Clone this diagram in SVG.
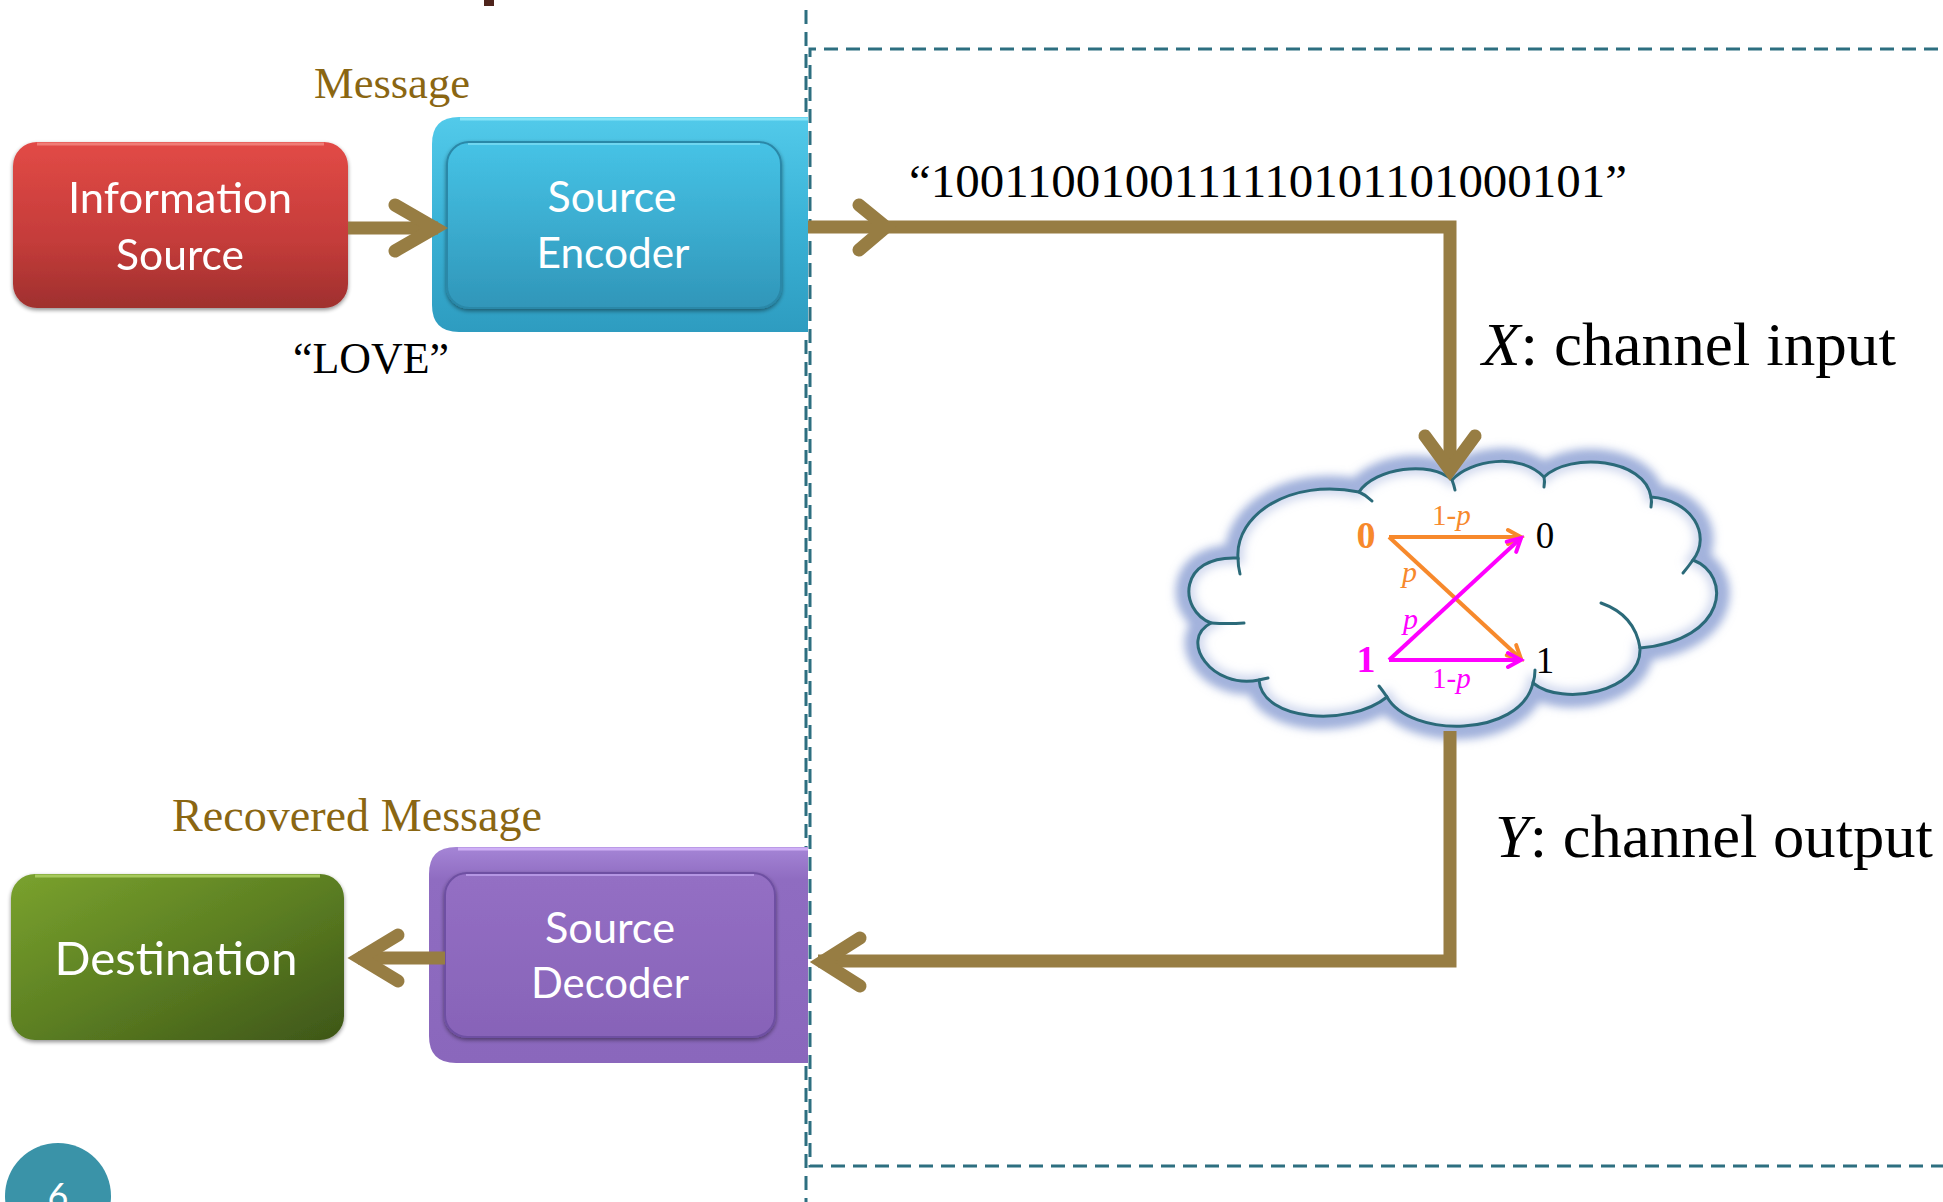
<svg xmlns="http://www.w3.org/2000/svg" width="1943" height="1202" viewBox="0 0 1943 1202">
<defs>
<style>
.box-text{font-family:Lato,"Open Sans","Noto Sans",sans-serif;fill:#ffffff;text-anchor:middle}
.serif{font-family:"Liberation Serif","DejaVu Serif",serif}
.gold{fill:#8a6612}
.conn{fill:none;stroke:#977d43;stroke-width:13;stroke-linejoin:miter;stroke-miterlimit:10}
.chev{fill:none;stroke:#977d43;stroke-width:13;stroke-linejoin:miter;stroke-linecap:round;stroke-miterlimit:10}
.dash{fill:none;stroke:#2d6f80;stroke-width:3;stroke-dasharray:14 8}
.orange{stroke:#f7892c;stroke-width:4;fill:none}
.magenta{stroke:#ff00ff;stroke-width:4;fill:none}
</style>
<linearGradient id="gRed" x1="0" y1="0" x2="0" y2="1">
<stop offset="0" stop-color="#e24a46"/><stop offset="0.6" stop-color="#c43c3a"/><stop offset="1" stop-color="#9f302e"/>
</linearGradient>
<linearGradient id="gBlueOuter" x1="0" y1="0" x2="0" y2="1">
<stop offset="0" stop-color="#52caea"/><stop offset="0.5" stop-color="#3ab2d6"/><stop offset="1" stop-color="#2e9cc0"/>
</linearGradient>
<linearGradient id="gBlueInner" x1="0" y1="0" x2="0" y2="1">
<stop offset="0" stop-color="#46c3e6"/><stop offset="1" stop-color="#3096b9"/>
</linearGradient>
<linearGradient id="gPurpleOuter" x1="0" y1="0" x2="0" y2="1">
<stop offset="0" stop-color="#a585d6"/><stop offset="0.15" stop-color="#8f6cc1"/><stop offset="1" stop-color="#8a67bc"/>
</linearGradient>
<linearGradient id="gPurpleInner" x1="0" y1="0" x2="0" y2="1">
<stop offset="0" stop-color="#946fc4"/><stop offset="1" stop-color="#8763b8"/>
</linearGradient>
<linearGradient id="gGreen" x1="0" y1="0" x2="1" y2="1">
<stop offset="0" stop-color="#7aa22e"/><stop offset="0.5" stop-color="#5c7f22"/><stop offset="1" stop-color="#3e5618"/>
</linearGradient>
<filter id="glow" x="-20%" y="-20%" width="140%" height="140%">
<feGaussianBlur stdDeviation="5"/>
</filter>
<filter id="shadow" x="-10%" y="-10%" width="120%" height="130%">
<feGaussianBlur in="SourceAlpha" stdDeviation="2"/>
<feOffset dy="2"/>
<feComponentTransfer><feFuncA type="linear" slope="0.45"/></feComponentTransfer>
<feMerge><feMergeNode/><feMergeNode in="SourceGraphic"/></feMerge>
</filter>
<marker id="arrO" markerWidth="20" markerHeight="20" refX="0" refY="0" viewBox="-16 -10 20 20" markerUnits="userSpaceOnUse" orient="auto">
<path d="M -13 -7 L 0 0 L -13 7" fill="none" stroke="#f7892c" stroke-width="4" stroke-linecap="round"/>
</marker>
<marker id="arrM" markerWidth="20" markerHeight="20" refX="0" refY="0" viewBox="-16 -10 20 20" markerUnits="userSpaceOnUse" orient="auto">
<path d="M -13 -7 L 0 0 L -13 7" fill="none" stroke="#ff00ff" stroke-width="4" stroke-linecap="round"/>
</marker>
<path id="cloudShape" d="M 1238 558 C 1235 515 1290 478 1359 492 C 1375 468 1430 460 1452 480 C 1470 460 1520 452 1544 477 C 1570 452 1645 458 1651 497 C 1692 500 1712 535 1693 560 C 1732 575 1728 640 1640 648 C 1642 692 1562 707 1533 683 C 1520 738 1410 738 1387 697 C 1350 727 1262 722 1259 680 C 1212 690 1178 640 1211 623 C 1178 610 1178 555 1238 558 Z"/>
</defs>

<rect x="0" y="0" width="1943" height="1202" fill="#ffffff"/>

<!-- title fragment -->
<rect x="484" y="0" width="10" height="6" fill="#4e241c"/>

<!-- dashed frame -->
<g id="frame">
<line class="dash" x1="806" y1="10" x2="806" y2="1202"/>
<path class="dash" d="M 1960 49 H 810 V 1166 H 1960"/>
</g>

<!-- Information Source -->
<g id="information-source" filter="url(#shadow)">
<rect x="13" y="142" width="335" height="166" rx="24" fill="url(#gRed)"/>
<path d="M 37 144 H 324" stroke="#f07c76" stroke-width="3" fill="none"/>
<text class="box-text" x="180" y="213" font-size="42" textLength="224" lengthAdjust="spacingAndGlyphs">Information</text>
<text class="box-text" x="180" y="270" font-size="42" textLength="128" lengthAdjust="spacingAndGlyphs">Source</text>
</g>

<!-- Source Encoder -->
<g id="source-encoder">
<path d="M 808 117 H 459 Q 432 117 432 144 V 305 Q 432 332 459 332 H 808 Z" fill="url(#gBlueOuter)"/>
<path d="M 460 119 H 808" stroke="#86e4f7" stroke-width="3" fill="none"/>
<g filter="url(#shadow)">
<rect x="447" y="142" width="334" height="166" rx="22" fill="url(#gBlueInner)" stroke="#2b88a8" stroke-width="2"/>
</g>
<path d="M 468 144 H 760" stroke="#6fd6f0" stroke-width="2" fill="none"/>
<text class="box-text" x="612" y="212" font-size="42" textLength="129" lengthAdjust="spacingAndGlyphs">Source</text>
<text class="box-text" x="613" y="268" font-size="42" textLength="153" lengthAdjust="spacingAndGlyphs">Encoder</text>
</g>

<!-- Source Decoder -->
<g id="source-decoder">
<path d="M 808 847 H 456 Q 429 847 429 874 V 1036 Q 429 1063 456 1063 H 808 Z" fill="url(#gPurpleOuter)"/>
<path d="M 458 849 H 808" stroke="#cfb0f6" stroke-width="3" fill="none"/>
<g filter="url(#shadow)">
<rect x="445" y="873" width="330" height="164" rx="22" fill="url(#gPurpleInner)" stroke="#6e50a2" stroke-width="2"/>
</g>
<path d="M 466 875 H 754" stroke="#b596e3" stroke-width="2" fill="none"/>
<text class="box-text" x="610" y="943" font-size="42" textLength="130" lengthAdjust="spacingAndGlyphs">Source</text>
<text class="box-text" x="610" y="998" font-size="42" textLength="158" lengthAdjust="spacingAndGlyphs">Decoder</text>
</g>

<!-- Destination -->
<g id="destination" filter="url(#shadow)">
<rect x="11" y="874" width="333" height="166" rx="24" fill="url(#gGreen)"/>
<path d="M 35 876 H 320" stroke="#a6c95c" stroke-width="3" fill="none"/>
<text class="box-text" x="176" y="975" font-size="46" textLength="243" lengthAdjust="spacingAndGlyphs">Destination</text>
</g>

<!-- Channel cloud -->
<g id="channel">
<use href="#cloudShape" fill="none" stroke="#8da1d3" stroke-width="26" stroke-opacity="0.85" filter="url(#glow)"/>
<use href="#cloudShape" fill="#ffffff" stroke="none"/>
<use href="#cloudShape" fill="none" stroke="#a9b8e0" stroke-width="12" stroke-opacity="0.55" filter="url(#glow)"/>
<use href="#cloudShape" fill="none" stroke="#2b6a79" stroke-width="3"/>
<g fill="none" stroke="#2b6a79" stroke-width="3" stroke-linecap="round">
<path d="M 1238 558 Q 1238 566 1240 574"/>
<path d="M 1359 492 Q 1366 495 1372 501"/>
<path d="M 1452 480 Q 1454 485 1455 490"/>
<path d="M 1544 477 Q 1545 481 1544 487"/>
<path d="M 1651 497 Q 1652 501 1651 507"/>
<path d="M 1693 560 Q 1688 567 1683 573"/>
<path d="M 1601 603 Q 1635 615 1640 648"/>
<path d="M 1533 683 Q 1535 677 1535 670"/>
<path d="M 1387 697 Q 1383 691 1379 686"/>
<path d="M 1259 680 Q 1263 679 1268 678"/>
<path d="M 1211 623 Q 1228 624 1244 623"/>
</g>
<line class="orange" x1="1389" y1="537" x2="1521" y2="537" marker-end="url(#arrO)"/>
<line class="orange" x1="1389" y1="537" x2="1521" y2="659" marker-end="url(#arrO)"/>
<line class="magenta" x1="1389" y1="660" x2="1521" y2="538" marker-end="url(#arrM)"/>
<line class="magenta" x1="1389" y1="660" x2="1521" y2="660" marker-end="url(#arrM)"/>
<text class="serif" x="1366" y="548" font-size="38" font-weight="bold" fill="#f7892c" text-anchor="middle">0</text>
<text class="serif" x="1366" y="672" font-size="38" font-weight="bold" fill="#ff00ff" text-anchor="middle">1</text>
<text class="serif" x="1545" y="548" font-size="37" fill="#000000" text-anchor="middle">0</text>
<text class="serif" x="1545" y="673" font-size="37" fill="#000000" text-anchor="middle">1</text>
<text class="serif" x="1432" y="525" font-size="29" fill="#f7892c">1-<tspan font-style="italic">p</tspan></text>
<text class="serif" x="1402" y="582" font-size="30" fill="#f7892c" font-style="italic">p</text>
<text class="serif" x="1403" y="629" font-size="30" fill="#ff00ff" font-style="italic">p</text>
<text class="serif" x="1432" y="688" font-size="29" fill="#ff00ff">1-<tspan font-style="italic">p</tspan></text>
</g>

<!-- Connectors -->
<g id="connectors">
<path class="conn" d="M 348 228 H 438"/>
<path class="chev" d="M 395 205 L 435 228 L 395 251"/>
<path class="conn" d="M 808 227 H 1450 V 472"/>
<path class="chev" d="M 859 205 L 886 227 L 859 250"/>
<path class="chev" d="M 1425 436 L 1450 470 L 1475 436"/>
<path class="conn" d="M 1450 731 V 961 H 818"/>
<path class="chev" d="M 860 938 L 822 962 L 860 986"/>
<path class="conn" d="M 445 958 H 358"/>
<path class="chev" d="M 398 935 L 360 958 L 398 981"/>
</g>

<!-- Labels -->
<g id="labels">
<text class="serif gold" x="314" y="98" font-size="44" textLength="156" lengthAdjust="spacingAndGlyphs">Message</text>
<text class="serif" x="293" y="373" font-size="44" fill="#000000" textLength="156" lengthAdjust="spacingAndGlyphs">“LOVE”</text>
<text class="serif" x="909" y="197" font-size="46" fill="#000000" textLength="718" lengthAdjust="spacingAndGlyphs">“1001100100111110101101000101”</text>
<text class="serif" x="1482" y="365" font-size="61" fill="#000000" textLength="414" lengthAdjust="spacingAndGlyphs"><tspan font-style="italic">X</tspan>: channel input</text>
<text class="serif" x="1495" y="857" font-size="61" fill="#000000" textLength="438" lengthAdjust="spacingAndGlyphs"><tspan font-style="italic">Y</tspan>: channel output</text>
<text class="serif gold" x="172" y="831" font-size="46" textLength="370" lengthAdjust="spacingAndGlyphs">Recovered Message</text>
</g>

<!-- slide number badge -->
<g id="slide-number">
<circle cx="58" cy="1196" r="53" fill="#3a93a8"/>
<text class="box-text" x="58" y="1209" font-size="36">6</text>
</g>
</svg>
